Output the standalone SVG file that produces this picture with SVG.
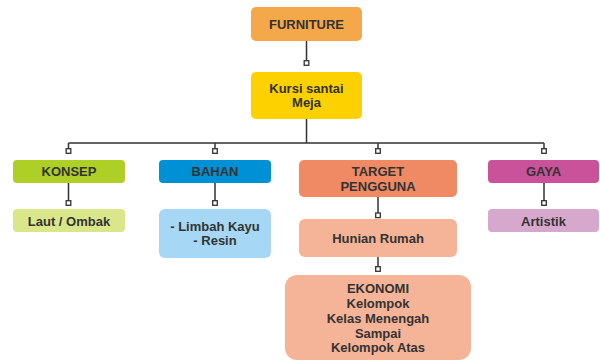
<svg xmlns="http://www.w3.org/2000/svg" width="600" height="361" viewBox="0 0 600 361">
<style>
text{font-family:"Liberation Sans",Arial,sans-serif;font-weight:bold;font-size:13px;fill:#333;text-anchor:middle}
.ln{stroke:#333;stroke-width:1.5;fill:none}
.sq{fill:#fff;stroke:#333;stroke-width:1.3}
</style>
<rect width="600" height="361" fill="#fff"/>
<g id="connectors">
<path class="ln" d="M306.5 41V60 M306.5 119V143 M68.5 143H544 M68.5 143V149 M215 143V149 M378 143V149 M544 143V149 M68.5 183V201 M215 183V201 M544 183V201 M378 197V216 M378 257V267"/>
<rect class="sq" x="304.2" y="60.7" width="4.6" height="4.6"/>
<rect class="sq" x="66.2" y="148.7" width="4.6" height="4.6"/>
<rect class="sq" x="212.7" y="148.7" width="4.6" height="4.6"/>
<rect class="sq" x="375.7" y="148.7" width="4.6" height="4.6"/>
<rect class="sq" x="541.7" y="148.7" width="4.6" height="4.6"/>
<rect class="sq" x="66.2" y="200.7" width="4.6" height="4.6"/>
<rect class="sq" x="212.7" y="200.7" width="4.6" height="4.6"/>
<rect class="sq" x="541.7" y="200.7" width="4.6" height="4.6"/>
<rect class="sq" x="375.7" y="213" width="4.6" height="4.6"/>
<rect class="sq" x="375.7" y="266.7" width="4.6" height="4.6"/>
</g>
<g id="furniture"><rect x="251" y="7" width="111" height="34" rx="5" fill="#F5A84A"/><text x="306.5" y="28.5">FURNITURE</text></g>
<g id="kursi"><rect x="251" y="72" width="111" height="47" rx="5" fill="#FDD000"/><text x="306.5" y="93">Kursi santai</text><text x="306.5" y="107">Meja</text></g>
<g id="konsep"><rect x="13" y="160" width="112" height="23" rx="4" fill="#AECF25"/><text x="69" y="175.5">KONSEP</text></g>
<g id="laut"><rect x="13" y="209" width="112" height="23" rx="4" fill="#D9E78A"/><text x="69" y="225.5">Laut / Ombak</text></g>
<g id="bahan"><rect x="159" y="160" width="112" height="23" rx="4" fill="#0090D5"/><text x="215" y="175.5">BAHAN</text></g>
<g id="limbah"><rect x="159" y="209" width="112" height="49" rx="6" fill="#A6D8F5"/><text x="215" y="231">- Limbah Kayu</text><text x="215" y="245">- Resin</text></g>
<g id="target"><rect x="299" y="160" width="158" height="37" rx="5" fill="#EF8A64"/><text x="378" y="175.5">TARGET</text><text x="378" y="190.5">PENGGUNA</text></g>
<g id="hunian"><rect x="299" y="219" width="158" height="38" rx="6" fill="#F5B497"/><text x="378" y="242.5">Hunian Rumah</text></g>
<g id="ekonomi"><rect x="285" y="275" width="186" height="85" rx="12" fill="#F5B497"/><text x="378" y="293">EKONOMI</text><text x="378" y="307.5">Kelompok</text><text x="378" y="322.5">Kelas Menengah</text><text x="378" y="337.5">Sampai</text><text x="378" y="352">Kelompok Atas</text></g>
<g id="gaya"><rect x="488" y="160" width="111" height="23" rx="4" fill="#C9529A"/><text x="543.5" y="175.5">GAYA</text></g>
<g id="artistik"><rect x="488" y="209" width="111" height="23" rx="4" fill="#D7A8CD"/><text x="543.5" y="225.5">Artistik</text></g>
</svg>
